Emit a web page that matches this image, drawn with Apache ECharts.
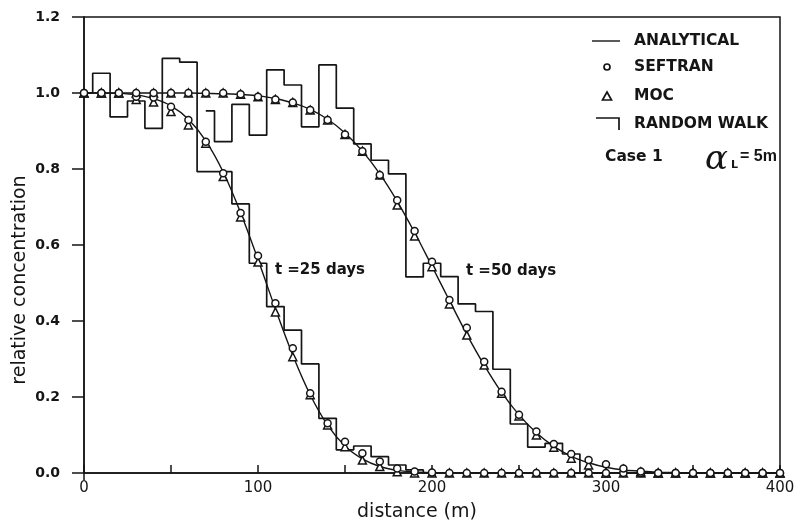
<!DOCTYPE html>
<html>
<head>
<meta charset="utf-8">
<script src="https://cdn.jsdelivr.net/npm/echarts@6/dist/echarts.min.js"></script>
<style>
  html, body { margin: 0; padding: 0; background: #ffffff; }
  #chart { width: 801px; height: 530px; }
</style>
</head>
<body>
<div id="chart"></div>
<script>
// Distances (m) at which the analytical curve, SEFTRAN and MOC are reported
const distance = [0, 10, 20, 30, 40, 50, 60, 70, 80, 90, 100, 110, 120, 130, 140, 150, 160, 170, 180, 190, 200,
                  210, 220, 230, 240, 250, 260, 270, 280, 290, 300, 310, 320, 330, 340, 350, 360, 370, 380, 390, 400];

// Analytical solution, t = 25 days and t = 50 days
const analytical25 = [1.000, 1.000, 0.999, 0.995, 0.985, 0.966, 0.931, 0.874, 0.792, 0.685, 0.562, 0.432, 0.310, 0.206, 0.126, 0.071, 0.037, 0.017, 0.007, 0.003, 0.001,
                      0, 0, 0, 0, 0, 0, 0, 0, 0, 0, 0, 0, 0, 0, 0, 0, 0, 0, 0, 0];
const analytical50 = [1.000, 1.000, 1.000, 1.000, 1.000, 1.000, 1.000, 0.999, 0.998, 0.996, 0.993, 0.985, 0.974, 0.957, 0.931, 0.895, 0.847, 0.787, 0.715, 0.633, 0.544,
                      0.454, 0.365, 0.284, 0.212, 0.153, 0.106, 0.070, 0.044, 0.027, 0.015, 0.008, 0.005, 0.002, 0.001, 0, 0, 0, 0, 0, 0];

// SEFTRAN results
const seftran25 = [1.000, 1.000, 1.000, 0.990, 0.988, 0.964, 0.929, 0.872, 0.789, 0.684, 0.572, 0.447, 0.328, 0.210, 0.131, 0.082, 0.052, 0.030, 0.012, 0.004, 0.001,
                   0, 0, 0, 0, 0, 0, 0, 0, 0, 0, 0, 0, 0, 0, 0, 0, 0, 0, 0, 0];
const seftran50 = [1.000, 1.000, 1.000, 1.000, 1.000, 1.000, 1.000, 1.000, 1.000, 0.997, 0.990, 0.983, 0.975, 0.955, 0.929, 0.891, 0.847, 0.784, 0.718, 0.637, 0.556,
                   0.455, 0.382, 0.293, 0.214, 0.153, 0.109, 0.076, 0.050, 0.034, 0.023, 0.012, 0.004, 0, 0, 0, 0, 0, 0, 0, 0];

// MOC results
const moc25 = [1.000, 1.000, 1.000, 0.983, 0.976, 0.951, 0.916, 0.868, 0.780, 0.674, 0.555, 0.424, 0.306, 0.206, 0.126, 0.069, 0.034, 0.017, 0.003, 0, 0,
               0, 0, 0, 0, 0, 0, 0, 0, 0, 0, 0, 0, 0, 0, 0, 0, 0, 0, 0, 0];
const moc50 = [1.000, 1.000, 1.000, 1.000, 1.000, 1.000, 1.000, 1.000, 1.000, 0.997, 0.990, 0.983, 0.975, 0.955, 0.929, 0.891, 0.847, 0.784, 0.705, 0.624, 0.543,
               0.445, 0.363, 0.284, 0.210, 0.150, 0.100, 0.068, 0.039, 0.021, 0.000, 0.010, 0.003, 0, 0, 0, 0, 0, 0, 0, 0];

// Random walk histograms: bin centres (m) and relative concentration per bin
const rwDistance25 = [0, 10, 20, 30, 40, 50, 60, 70, 80, 90, 100, 110, 120, 130, 140, 150, 160, 170, 180, 190, 200];
const randomWalk25 = [1.000, 1.052, 0.937, 0.979, 0.907, 1.091, 1.081, 0.793, 0.793, 0.708, 0.552, 0.438, 0.376, 0.287, 0.144, 0.061, 0.071, 0.043, 0.021, 0.008, 0.000];
const rwDistance50 = [70, 80, 90, 100, 110, 120, 130, 140, 150, 160, 170, 180, 190, 200, 210, 220, 230, 240, 250, 260, 270, 280, 290, 300];
const randomWalk50 = [0.953, 0.872, 0.970, 0.889, 1.061, 1.021, 0.911, 1.074, 0.960, 0.866, 0.823, 0.787, 0.516, 0.552, 0.517, 0.445, 0.425, 0.273, 0.129, 0.068, 0.078, 0.050, 0.000, 0.000];

// Axis ticks
const xTicks = [0, 100, 200, 300, 400];
const yTicks = [0.0, 0.2, 0.4, 0.6, 0.8, 1.0, 1.2];

// Curve annotations: [distance, concentration, text]
const curveNotes = [[109.7, 0.534, 't =25 days'], [219.5, 0.532, 't =50 days']];

const INK = '#151515';
const FONT = 'DejaVu Sans';

const pairs = (xs, ys) => xs.map((x, i) => [x, ys[i]]);

const chart = echarts.init(document.getElementById('chart'), null, { renderer: 'canvas' });

const lineSeries = (name, ys) => ({
  name, type: 'line', data: pairs(distance, ys), smooth: 0.35,
  symbol: 'none', lineStyle: { color: INK, width: 1.4 }, z: 3, animation: false
});
const stepSeries = (name, xs, ys) => ({
  name, type: 'line', step: 'middle', data: pairs(xs, ys),
  symbol: 'none', lineStyle: { color: INK, width: 1.7 }, z: 2, animation: false
});
const markerSeries = (name, ys, symbol, size) => ({
  name, type: 'scatter', data: pairs(distance, ys), symbol, symbolSize: size,
  itemStyle: { color: '#ffffff', borderColor: INK, borderWidth: 1.5, opacity: 1 }, z: 5, animation: false
});

chart.setOption({
  backgroundColor: '#ffffff',
  animation: false,
  grid: { left: 84, right: 21, top: 17, bottom: 57, show: true, borderColor: INK, borderWidth: 1.5, backgroundColor: 'transparent' },
  xAxis: {
    type: 'value', min: 0, max: 400, interval: 50,
    axisLine: { show: true, lineStyle: { color: INK, width: 1.5 } },
    axisTick: { show: true, inside: true, length: 8, lineStyle: { color: INK, width: 1.5 } },
    axisLabel: {
      margin: 8, color: INK, fontFamily: FONT, fontSize: 15,
      formatter: v => (xTicks.indexOf(v) >= 0 ? String(v) : '')
    },
    splitLine: { show: false }
  },
  yAxis: {
    type: 'value', min: 0, max: 1.2, interval: 0.2,
    axisLine: { show: true, lineStyle: { color: INK, width: 1.5 } },
    axisTick: { show: true, inside: false, length: 12, lineStyle: { color: INK, width: 1.5 } },
    axisLabel: {
      margin: 24, color: INK, fontFamily: FONT, fontSize: 14, fontWeight: 'bold',
      formatter: v => {
        const t = yTicks.find(k => Math.abs(k - v) < 1e-6);
        return t === undefined ? '' : t.toFixed(1);
      }
    },
    splitLine: { show: false }
  },
  series: [
    stepSeries('RANDOM WALK 25', rwDistance25, randomWalk25),
    stepSeries('RANDOM WALK 50', rwDistance50, randomWalk50),
    lineSeries('ANALYTICAL 25', analytical25),
    lineSeries('ANALYTICAL 50', analytical50),
    markerSeries('MOC 25', moc25, 'triangle', 8),
    markerSeries('MOC 50', moc50, 'triangle', 8),
    markerSeries('SEFTRAN 25', seftran25, 'circle', 7),
    markerSeries('SEFTRAN 50', seftran50, 'circle', 7)
  ]
});

// Annotations, legend and axis titles
const origin = chart.convertToPixel({ gridIndex: 0 }, [0, 0]);
const txt = (x, y, text, opts) => ({
  type: 'text', x, y, silent: true,
  style: Object.assign({
    text, fill: INK, fontFamily: FONT, fontSize: 15, fontWeight: 'bold',
    textAlign: 'left', textVerticalAlign: 'middle'
  }, opts || {})
});
const LEGEND = { fontSize: 15.5 };

const graphics = [];
curveNotes.forEach(n => {
  const p = chart.convertToPixel({ gridIndex: 0 }, [n[0], n[1]]);
  graphics.push(txt(p[0], p[1], n[2]));
});

// y-axis line continues a little below the x axis
graphics.push({ type: 'line', silent: true, shape: { x1: origin[0], y1: origin[1], x2: origin[0], y2: origin[1] + 7 },
  style: { stroke: INK, lineWidth: 1.5 } });

// Legend block
graphics.push({ type: 'line', silent: true, shape: { x1: 592, y1: 41, x2: 620, y2: 41 }, style: { stroke: INK, lineWidth: 1.4 } });
graphics.push(txt(634, 41, 'ANALYTICAL', LEGEND));
graphics.push({ type: 'circle', silent: true, shape: { cx: 607, cy: 67, r: 3 }, style: { fill: '#fff', stroke: INK, lineWidth: 1.7 } });
graphics.push(txt(634, 67, 'SEFTRAN', LEGEND));
graphics.push({ type: 'polygon', silent: true, shape: { points: [[607, 92], [611.5, 100], [602.5, 100]] }, style: { fill: '#fff', stroke: INK, lineWidth: 1.7 } });
graphics.push(txt(634, 96, 'MOC', LEGEND));
graphics.push({ type: 'polyline', silent: true, shape: { points: [[596, 118], [619, 118], [619, 130]] }, style: { fill: null, stroke: INK, lineWidth: 1.7 } });
graphics.push(txt(634, 124, 'RANDOM WALK', LEGEND));
graphics.push(txt(605, 157, 'Case 1', LEGEND));
graphics.push(txt(705, 160, 'α', { fontFamily: 'DejaVu Serif', fontStyle: 'italic', fontWeight: 'normal', fontSize: 34 }));
graphics.push(txt(731, 165, 'L', { fontSize: 11 }));
graphics.push(txt(740, 157, '= 5m', { fontFamily: 'Liberation Sans', fontSize: 16 }));

// Axis titles
graphics.push(txt(417, 512, 'distance (m)', { fontSize: 19, fontWeight: 'normal', textAlign: 'center' }));
graphics.push(Object.assign(txt(20, 280, 'relative concentration', { fontSize: 19, fontWeight: 'normal', textAlign: 'center' }), { rotation: Math.PI / 2 }));

chart.setOption({ graphic: { elements: graphics } });
</script>
</body>
</html>
